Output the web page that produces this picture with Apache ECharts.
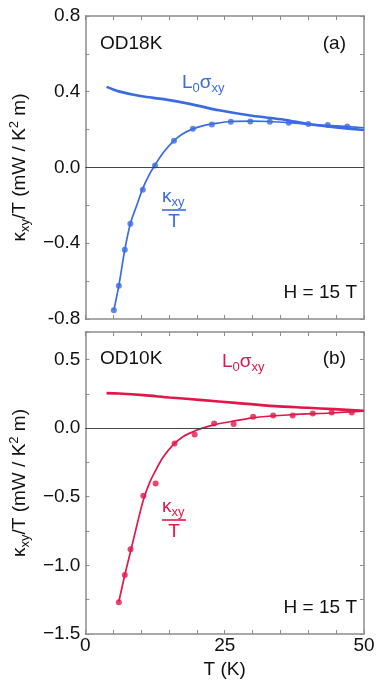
<!DOCTYPE html>
<html>
<head>
<meta charset="utf-8">
<script src="https://cdn.jsdelivr.net/npm/echarts@6/dist/echarts.min.js"></script>
<style>
  html, body { margin: 0; padding: 0; background: #fff; }
  #chart { width: 387px; height: 685px; }
</style>
</head>
<body>
<div id="chart"></div>
<script>
// panel (a) OD18K
var topL0T = [3.8, 6.0, 10.1, 14.0, 18.7, 24.0, 29.9, 35.7, 39.9, 44.6, 50];
var topL0 = [0.426, 0.402, 0.376, 0.361, 0.336, 0.302, 0.273, 0.252, 0.230, 0.213, 0.198];
var topDotT = [5.1, 6.0, 7.07, 8.07, 10.3, 12.5, 15.9, 19.3, 22.7, 26.1, 29.6, 33.1, 36.5, 40.0, 43.5, 47.0];
var topDot = [-0.754, -0.624, -0.434, -0.297, -0.118, 0.011, 0.141, 0.204, 0.227, 0.241, 0.243, 0.241, 0.236, 0.230, 0.225, 0.216];
var topFitT = [5.1, 6.0, 7.07, 8.07, 9.25, 10.25, 11.3, 12.4, 14.0, 15.85, 17.5, 19.3, 21.0, 22.8, 26.0, 30, 33, 36.5, 40, 45, 50];
var topFit = [-0.754, -0.624, -0.434, -0.297, -0.197, -0.114, -0.047, 0.009, 0.079, 0.141, 0.178, 0.204, 0.220, 0.230, 0.243, 0.245, 0.243, 0.237, 0.229, 0.220, 0.210];

// panel (b) OD10K
var botL0T = [3.8, 6.0, 10.4, 15.1, 21.0, 26.9, 34.0, 39.9, 44.6, 50];
var botL0 = [0.255, 0.252, 0.240, 0.223, 0.204, 0.184, 0.160, 0.148, 0.138, 0.126];
var botDotT = [6.0, 7.07, 8.1, 10.4, 12.6, 16.0, 19.6, 23.1, 26.6, 30.1, 33.7, 37.2, 40.8, 44.2, 47.8];
var botDot = [-1.269, -1.070, -0.883, -0.493, -0.403, -0.112, -0.046, 0.034, 0.029, 0.083, 0.092, 0.092, 0.107, 0.114, 0.114];
var botFitT = [6.0, 7.07, 8.2, 9.25, 10.4, 11.6, 12.8, 14.0, 15.7, 17.5, 19.3, 21.0, 23.4, 26.0, 30, 37, 44, 50];
var botFit = [-1.264, -1.070, -0.883, -0.706, -0.524, -0.390, -0.293, -0.209, -0.124, -0.063, -0.027, 0.0, 0.027, 0.046, 0.075, 0.097, 0.110, 0.124];

var xTickLabels = ['0', '25', '50'];
var topYLabels = ['-0.8', '\u22120.4', '0.0', '0.4', '0.8'];
var botYLabels = ['\u22121.5', '\u22121.0', '\u22120.5', '0.0', '0.5'];

var blue = '#3b6be3';
var red = '#e3164b';
var frame = '#8c8c8c';
var font = 'Liberation Sans, Arial, sans-serif';

function pairs(xs, ys) {
  return xs.map(function (x, i) { return [x, ys[i]]; });
}

var myChart = echarts.init(document.getElementById('chart'));

function xAx(gi, pos, labels) {
  return {
    type: 'value', gridIndex: gi, position: pos, min: 0, max: 50, interval: 5,
    axisLine: { show: true, onZero: false, lineStyle: { color: frame, width: 1.5 } },
    axisTick: { show: true, inside: true, length: 4, lineStyle: { color: frame } },
    splitLine: { show: false },
    axisLabel: {
      show: labels, color: '#111', fontSize: 19, fontFamily: font, margin: 2,
      formatter: function (v) {
        return v % 25 === 0 ? xTickLabels[v / 25] : '';
      }
    },
    name: labels ? 'T (K)' : '', nameLocation: 'middle', nameGap: 26,
    nameTextStyle: { color: '#111', fontSize: 19, fontFamily: font }
  };
}

var yName = '{n|\u03ba}{s|xy}{n|/T (mW / K}{p|2}{n| m)}';
var yRich = {
  n: { fontSize: 19, fontFamily: font, color: '#111', lineHeight: 24 },
  s: { fontSize: 13, fontFamily: font, color: '#111', verticalAlign: 'bottom' },
  p: { fontSize: 13, fontFamily: font, color: '#111', verticalAlign: 'top' }
};

function yAx(gi, pos, min, max, step, labStep, labels) {
  return {
    type: 'value', gridIndex: gi, position: pos, min: min, max: max, interval: step,
    axisLine: { show: true, onZero: false, lineStyle: { color: frame, width: 1.5 } },
    axisTick: { show: true, inside: true, length: 4, lineStyle: { color: frame } },
    splitLine: { show: false },
    axisLabel: {
      show: !!labels, color: '#111', fontSize: 19, fontFamily: font, margin: 5,
      showMaxLabel: true,
      formatter: function (v) {
        var k = Math.round((v - min) / labStep * 1000) / 1000;
        if (Math.abs(k - Math.round(k)) > 1e-6) return '';
        return labels[Math.round(k)] || '';
      }
    },
    name: labels ? yName : '', nameLocation: 'middle', nameRotate: 90, nameGap: 44,
    nameTextStyle: { rich: yRich }
  };
}

function line(xi, yi, data, color, width) {
  return {
    type: 'line', xAxisIndex: xi, yAxisIndex: yi, data: data, showSymbol: false,
    symbol: 'none', smooth: 0.3, lineStyle: { color: color, width: width }, z: 3
  };
}

function dots(xi, yi, data, color) {
  return {
    type: 'scatter', xAxisIndex: xi, yAxisIndex: yi, data: data, symbolSize: 6,
    itemStyle: { color: color }, z: 4
  };
}

function zero(xi, yi) {
  return {
    type: 'line', xAxisIndex: xi, yAxisIndex: yi, data: [], z: 2,
    markLine: {
      silent: true, symbol: 'none', label: { show: false },
      lineStyle: { color: '#444', width: 1, type: 'solid' },
      data: [{ yAxis: 0 }]
    }
  };
}

function txt(x, y, text, color, size, align) {
  return {
    type: 'text', x: x, y: y, silent: true,
    style: {
      text: text, fill: color, font: size + 'px ' + font,
      textAlign: align || 'left', textVerticalAlign: 'middle'
    }
  };
}

function rich(x, y, text, color) {
  return {
    type: 'text', x: x, y: y, silent: true,
    style: {
      text: text, fill: color, font: '19px ' + font, textVerticalAlign: 'middle',
      rich: {
        n: { font: '19px ' + font, lineHeight: 24 },
        s: { font: '13px ' + font, verticalAlign: 'bottom' }
      }
    }
  };
}

function frac(x, y, color) {
  return [
    rich(x, y, '{n|\u03ba}{s|xy}', color),
    { type: 'line', silent: true, shape: { x1: x, y1: y + 13, x2: x + 24, y2: y + 13 },
      style: { stroke: color, lineWidth: 1.6 } },
    txt(x + 12, y + 25, 'T', color, 19, 'center')
  ];
}

var graphics = [
  txt(100, 44, 'OD18K', '#111', 19),
  txt(346, 44, '(a)', '#111', 19, 'right'),
  txt(357, 293, 'H = 15 T', '#111', 19, 'right'),
  rich(182, 83, '{n|L}{s|0}{n|\u03c3}{s|xy}', blue),
  txt(100, 359, 'OD10K', '#111', 19),
  txt(346, 359, '(b)', '#111', 19, 'right'),
  txt(357, 608, 'H = 15 T', '#111', 19, 'right'),
  rich(222, 362, '{n|L}{s|0}{n|\u03c3}{s|xy}', red)
].concat(frac(162, 197, blue)).concat(frac(162, 507, red));

var option = {
  animation: false,
  backgroundColor: '#fff',
  grid: [
    { left: 81, top: 16, width: 283, height: 303 },
    { left: 81, top: 332, width: 283, height: 302 }
  ],
  xAxis: [
    xAx(0, 'bottom', false),
    xAx(0, 'top', false),
    xAx(1, 'bottom', true),
    xAx(1, 'top', false)
  ],
  yAxis: [
    yAx(0, 'left', -0.8, 0.8, 0.2, 0.4, topYLabels),
    yAx(0, 'right', -0.8, 0.8, 0.2, 0.4, null),
    yAx(1, 'left', -1.5, 0.7, 0.25, 0.5, botYLabels),
    yAx(1, 'right', -1.5, 0.7, 0.25, 0.5, null)
  ],
  series: [
    zero(0, 0),
    line(0, 0, pairs(topL0T, topL0), blue, 2.6),
    line(0, 0, pairs(topFitT, topFit), blue, 1.7),
    dots(0, 0, pairs(topDotT, topDot), blue),
    zero(2, 2),
    line(2, 2, pairs(botL0T, botL0), red, 2.6),
    line(2, 2, pairs(botFitT, botFit), red, 1.7),
    dots(2, 2, pairs(botDotT, botDot), red)
  ],
  graphic: graphics
};

myChart.setOption(option);
</script>
</body>
</html>
